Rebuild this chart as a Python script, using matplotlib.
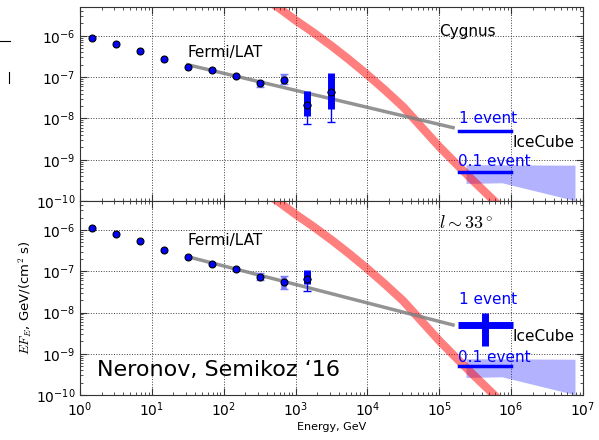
import numpy as np
import matplotlib
matplotlib.use("Agg")
import matplotlib.pyplot as plt
from matplotlib.lines import Line2D

# --- data ---
# Fermi/LAT spectral points (GeV, GeV/cm2/s)
e_fermi = [1.47, 3.2, 6.9, 14.7, 31.8, 68.5, 148, 318, 681]
f_cygnus = [8.8e-7, 6.5e-7, 4.2e-7, 2.75e-7, 1.8e-7, 1.46e-7, 1.09e-7, 7.2e-8, 8.7e-8]
f_l33 = [1.1e-6, 8.1e-7, 5.3e-7, 3.3e-7, 2.2e-7, 1.5e-7, 1.15e-7, 7.4e-8, 5.6e-8]
# last two Fermi points have (light blue) error bars
cyg_err_lo = [5.7e-8, 6.9e-8]
cyg_err_hi = [8.3e-8, 1.17e-7]
l33_err_lo = [6.2e-8, 3.8e-8]
l33_err_hi = [9.3e-8, 7.8e-8]

# TeV points (box + whisker)
e_tev_cyg = [1466, 3160]
f_tev_cyg = [2.1e-8, 4.5e-8]
box_lo_cyg = [1.12e-8, 1.66e-8]
box_hi_cyg = [4.7e-8, 1.26e-7]
whisk_lo_cyg = [7.4e-9, 8.2e-9]

e_tev_l33 = [1466]
f_tev_l33 = [6.5e-8]
box_lo_l33 = [4.9e-8]
box_hi_l33 = [1.07e-7]
whisk_lo_l33 = [3.3e-8]

# power-law fits (start, end)
fit_e = [31.6, 1.56e5]
fit_cyg = [2.0e-7, 6.0e-9]
fit_l33 = [2.25e-7, 5.0e-9]

# model band (log10 E, log10 EF_E)
band_loge = [2.0, 2.5, 2.75, 3.0, 3.25, 3.5, 3.75, 4.0, 4.25, 4.5,
             4.75, 5.0, 5.25, 5.5, 5.75, 6.0]
band_logf = [-4.55, -5.02, -5.30, -5.62, -5.92, -6.24, -6.58, -6.94, -7.32, -7.72,
             -8.20, -8.68, -9.12, -9.55, -9.97, -10.4]

# IceCube sensitivity
ic_e = [1.87e5, 1.0e6]
ic_1ev = 5.1e-9
ic_01ev = 5.0e-10
ic_cross_e = 4.4e5
ic_cross_f = 5.0e-9
ic_cross_e_range = [1.8e5, 1.05e6]
ic_cross_f_range = [1.55e-9, 1.0e-8]
shade_e = [2.4e5, 7.9e6, 7.9e6, 7.6e5, 2.4e5]
shade_f = [7.4e-10, 7.2e-10, 1.0e-10, 2.7e-10, 2.6e-10]

fig = plt.figure(figsize=(5.99, 4.40), dpi=100)
ax1 = fig.add_axes([0.1336, 0.543, 0.8394, 0.441])
ax2 = fig.add_axes([0.1336, 0.102, 0.8394, 0.441], sharex=ax1)

band_e = 10 ** np.array(band_loge)
band_f = 10 ** np.array(band_logf)


def draw_panel(ax, flux, err_lo, err_hi, e_tev, f_tev, blo, bhi, wlo, fit_f):
    ax.set_xscale("log")
    ax.set_yscale("log")
    ax.set_xlim(1, 1e7)
    ax.set_ylim(1e-10, 5e-6)
    ax.grid(True, which="major", ls=":", color="0.25", lw=0.7)

    ax.plot(band_e, band_f, color="red", alpha=0.5, lw=6, zorder=2,
            solid_capstyle="butt", solid_joinstyle="round")
    ax.plot(fit_e, fit_f, color="gray", lw=2.5, alpha=0.85, zorder=3)

    # light blue error bars on the last two Fermi points
    y = np.array(flux[-2:])
    ax.errorbar(e_fermi[-2:], y, yerr=[y - np.array(err_lo), np.array(err_hi) - y],
                fmt="none", ecolor="#7a7aff", elinewidth=4, capsize=3,
                capthick=1, zorder=4)
    ax.plot(e_fermi, flux, "o", color="blue", mec="k", mew=0.8, ms=5, zorder=5)

    # TeV points: thin whisker + thick box
    f = np.array(f_tev)
    ax.errorbar(e_tev, f, yerr=[f - np.array(wlo), np.zeros_like(f)],
                fmt="none", ecolor="blue", elinewidth=1, capsize=3, zorder=4)
    ax.errorbar(e_tev, f, yerr=[f - np.array(blo), np.array(bhi) - f],
                fmt="none", ecolor="blue", elinewidth=5, capsize=0, zorder=4)
    ax.plot(e_tev, f_tev, "o", mfc="none", mec="k", mew=0.8, ms=5, zorder=6)

    # IceCube
    ax.fill(shade_e, shade_f, color="blue", alpha=0.3, lw=0, zorder=1)
    ax.plot(ic_e, [ic_01ev, ic_01ev], color="blue", lw=2.5, zorder=4)

    for s in ax.spines.values():
        s.set_color("0.2")
    ax.tick_params(which="both", direction="in", top=True, right=True,
                   labelsize=10, color="0.2")
    ax.tick_params(which="major", length=5)
    ax.tick_params(which="minor", length=2.5)


draw_panel(ax1, f_cygnus, cyg_err_lo, cyg_err_hi, e_tev_cyg, f_tev_cyg,
           box_lo_cyg, box_hi_cyg, whisk_lo_cyg, fit_cyg)
draw_panel(ax2, f_l33, l33_err_lo, l33_err_hi, e_tev_l33, f_tev_l33,
           box_lo_l33, box_hi_l33, whisk_lo_l33, fit_l33)

ax1.plot(ic_e, [ic_1ev, ic_1ev], color="blue", lw=2.5, zorder=4)
ax2.errorbar([ic_cross_e], [ic_cross_f],
             xerr=[[ic_cross_e - ic_cross_e_range[0]], [ic_cross_e_range[1] - ic_cross_e]],
             yerr=[[ic_cross_f - ic_cross_f_range[0]], [ic_cross_f_range[1] - ic_cross_f]],
             fmt="none", ecolor="blue", elinewidth=5, capsize=0, zorder=4)

plt.setp(ax1.get_xticklabels(), visible=False)

# labels
ax1.text(1.0e5, 1.25e-6, "Cygnus", fontsize=11, va="center")
ax2.text(1.0e5, 1.5e-6, r"$l\sim33^\circ$", fontsize=13, va="center",
         math_fontfamily="cm")
ax1.text(31, 3.9e-7, "Fermi/LAT", fontsize=11, va="center")
ax2.text(31, 5.4e-7, "Fermi/LAT", fontsize=11, va="center")
ax2.text(1.72, 4.1e-10, "Neronov, Semikoz \u201816", fontsize=16, va="center")

for ax, y1, yi, y01 in [(ax1, 1.0e-8, 2.6e-9, 9.0e-10), (ax2, 2.1e-8, 2.7e-9, 8.3e-10)]:
    ax.text(1.87e5, y1, "1 event", color="blue", fontsize=11, va="center")
    ax.text(1.05e6, yi, "IceCube", color="k", fontsize=11, va="center")
    ax.text(1.8e5, y01, "0.1 event", color="blue", fontsize=11, va="center")

ax2.set_xlabel("Energy, GeV", fontsize=8)
ax2.set_ylabel(r"$EF_E$, GeV/(cm$^2$ s)", fontsize=9.5, math_fontfamily="cm")
ax2.xaxis.set_label_coords(0.5, -0.14)
ax2.yaxis.set_label_coords(-0.091, 0.5)

# stray marks at the left edge of the original slide
fig.add_artist(Line2D([0.0, 0.0167], [0.9075, 0.9075], color="k", lw=0.8))
fig.add_artist(Line2D([0.015, 0.015], [0.836, 0.811], color="k", lw=0.8))

fig.savefig("out.png", dpi=100)
